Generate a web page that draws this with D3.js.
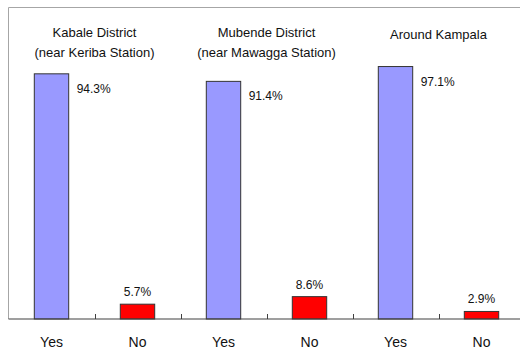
<!DOCTYPE html>
<html><head><meta charset="utf-8">
<script src="https://cdn.jsdelivr.net/npm/d3@7"></script>
<style>html,body{margin:0;padding:0;background:#fff;}svg{display:block;}</style>
</head><body>
<script>
const groupTitles = [["Kabale District", "(near Keriba Station)"], ["Mubende District", "(near Mawagga Station)"], ["Around Kampala"]];
const answers = ["Yes", "No"];
const yesValues = [94.3, 91.4, 97.1];
const noValues = [5.7, 8.6, 2.9];
const yTicks = [0, 100];

const W = 520, H = 356;
const svg = d3.select("body").append("svg").attr("width", W).attr("height", H);
const font = "Arial, 'Liberation Sans', sans-serif";

const cats = [];
groupTitles.forEach((g, i) => answers.forEach((a, j) => cats.push({key: i + "-" + a, group: i, answer: a, value: j === 0 ? yesValues[i] : noValues[i]})));

const x = d3.scaleBand().domain(cats.map(d => d.key)).range([8.5, 8.5 + 6 * 86]).paddingInner(0).paddingOuter(0);
const y = d3.scaleLinear().domain(yTicks).range([319, 59]);

// frame (top + left)
svg.append("line").attr("x1", 8.5).attr("x2", W).attr("y1", 7.5).attr("y2", 7.5).attr("stroke", "#a6a6a6").attr("stroke-width", 1);
svg.append("line").attr("x1", 8.5).attr("x2", 8.5).attr("y1", 7.5).attr("y2", y(0)).attr("stroke", "#a6a6a6").attr("stroke-width", 1);

const bw = x.bandwidth() * 0.4;
svg.selectAll("rect.bar").data(cats).enter().append("rect")
  .attr("x", d => x(d.key) + x.bandwidth() / 2 - bw / 2)
  .attr("y", d => y(d.value))
  .attr("width", bw)
  .attr("height", d => y(0) - y(d.value))
  .attr("fill", d => d.answer === "Yes" ? "#9999ff" : "#ff0000")
  .attr("stroke", "#333")
  .attr("stroke-width", 1);

// x axis
const axis = svg.append("g").attr("transform", `translate(0,${y(0)})`);
axis.append("line").attr("x1", 8.5).attr("x2", W).attr("stroke", "#404040").attr("stroke-width", 1.2);
const bounds = cats.slice(1).map(d => Math.round(x(d.key)) + 0.5);
axis.selectAll("line.tick").data(bounds).enter().append("line")
  .attr("x1", d => d).attr("x2", d => d).attr("y1", 0).attr("y2", -5)
  .attr("stroke", "#404040");
axis.selectAll("text.cat").data(cats).enter().append("text")
  .attr("x", d => x(d.key) + x.bandwidth() / 2)
  .attr("y", 28)
  .attr("text-anchor", "middle")
  .attr("font-family", font).attr("font-size", 14).attr("fill", "#111")
  .text(d => d.answer);

// value labels
svg.selectAll("text.val").data(cats).enter().append("text")
  .attr("x", d => d.answer === "Yes" ? x(d.key) + x.bandwidth() / 2 + bw / 2 + 8 : x(d.key) + x.bandwidth() / 2)
  .attr("y", d => d.answer === "Yes" ? y(d.value) + 19 : y(d.value) - 8)
  .attr("text-anchor", d => d.answer === "Yes" ? "start" : "middle")
  .attr("font-family", font).attr("font-size", 12).attr("fill", "#111")
  .text(d => d.value.toFixed(1) + "%");

// group titles
groupTitles.forEach((lines, i) => {
  const cx = x(i + "-Yes") + x.bandwidth();
  const t = svg.append("text").attr("text-anchor", "middle")
    .attr("font-family", font).attr("font-size", 13).attr("fill", "#111");
  lines.forEach((l, k) => {
    t.append("tspan").attr("x", cx).attr("y", (lines.length === 1 ? 39 : 37) + k * 20).text(l);
  });
});
</script>
</body></html>
